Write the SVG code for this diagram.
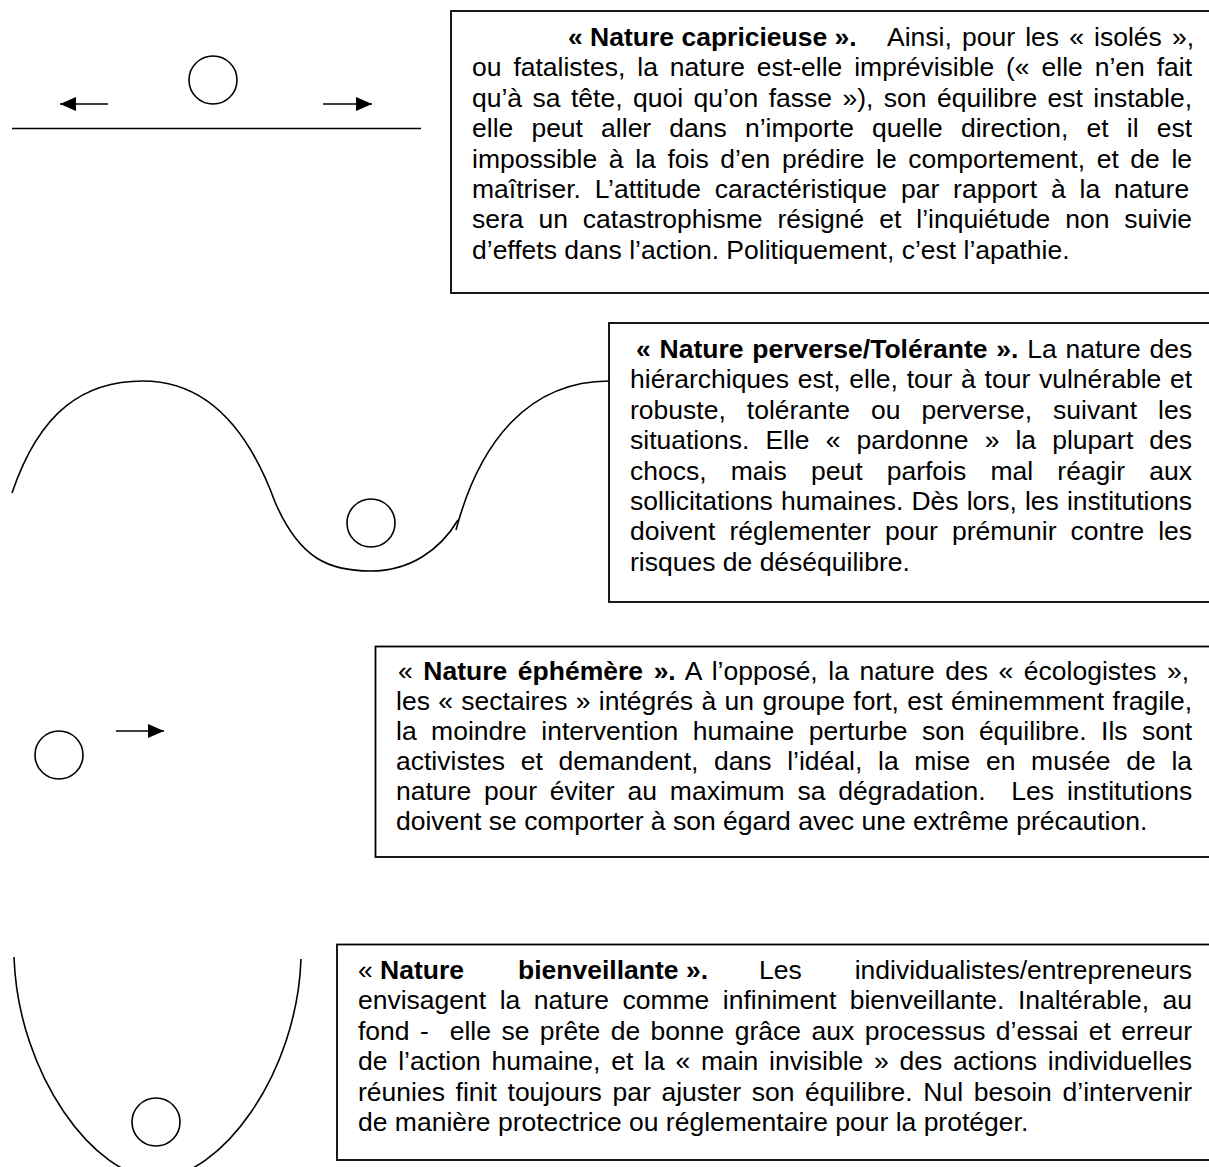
<svg xmlns="http://www.w3.org/2000/svg" width="1209" height="1167" viewBox="0 0 1209 1167">
<defs>
<style>
.box{fill:#fff;stroke:#000;stroke-width:1.8}
.ln{fill:none;stroke:#000;stroke-width:1.6}
.t{font-family:"Liberation Sans",Arial,sans-serif;font-size:26.5px;fill:#000}
.b{font-weight:bold}
</style>
<marker id="ah" markerUnits="userSpaceOnUse" markerWidth="16" markerHeight="16" refX="16" refY="7" orient="auto">
<path d="M0,0 L16,7 L0,14 Z" fill="#000"/>
</marker>
</defs>
<rect width="1209" height="1167" fill="#fff"/>

<g id="shape-capricieuse">
<circle class="ln" cx="213" cy="80" r="24"/>
<line class="ln" x1="12" y1="128.5" x2="421" y2="128.5"/>
</g>
<g id="shape-perverse">
<path class="ln" d="M12,493 C40,410 85,381 143,381 C200,381 245,420 275,502"/>
<path class="ln" d="M275,502 C300,560 330,571 371,571 C410,571 440,550 458,520"/>
<path class="ln" d="M456,530 C480,440 530,381 609,381"/>
<circle class="ln" cx="371" cy="523" r="24"/>
</g>
<g id="shape-ephemere">
<circle class="ln" cx="59" cy="755" r="24"/>
</g>
<g id="shape-bienveillante">
<path class="ln" d="M14,957 C18,1075 95,1178 157,1178 C220,1178 297,1075 301,959"/>
<circle class="ln" cx="156" cy="1122" r="24"/>
</g>

<g id="connectors">
<line class="ln" x1="108" y1="104" x2="60" y2="104" marker-end="url(#ah)"/>
<line class="ln" x1="323" y1="104" x2="372" y2="104" marker-end="url(#ah)"/>
<line class="ln" x1="116" y1="731" x2="164" y2="731" marker-end="url(#ah)"/>
</g>

<g id="box-capricieuse">
<rect class="box" x="451" y="11" width="780" height="282"/>
<g class="t">
<text x="568" y="46" class="b">«&#160;Nature capricieuse&#160;».</text>
<text x="887" y="46" word-spacing="2.8">Ainsi, pour les «&#160;isolés&#160;»,</text>
<text x="472" y="76.4" word-spacing="4.56">ou fatalistes, la nature est-elle imprévisible («&#160;elle n’en fait</text>
<text x="472" y="106.8" word-spacing="3.06">qu’à sa tête, quoi qu’on fasse&#160;»), son équilibre est instable,</text>
<text x="472" y="137.2" word-spacing="10.78">elle peut aller dans n’importe quelle direction, et il est</text>
<text x="472" y="167.6" word-spacing="4.25">impossible à la fois d’en prédire le comportement, et de le</text>
<text x="472" y="198" word-spacing="6.49">maîtriser. L’attitude caractéristique par rapport à la nature</text>
<text x="472" y="228.4" word-spacing="7.54">sera un catastrophisme résigné et l’inquiétude non suivie</text>
<text x="472" y="258.8">d’effets dans l’action. Politiquement, c’est l’apathie.</text>
</g>
</g>

<g id="box-perverse">
<rect class="box" x="609" y="323" width="620" height="279"/>
<g class="t">
<text x="636" y="358" word-spacing="1.45"><tspan class="b">«&#160;Nature perverse/Tolérante&#160;».</tspan> La nature des</text>
<text x="630" y="388.4" word-spacing="1.39">hiérarchiques est, elle, tour à tour vulnérable et</text>
<text x="630" y="418.8" word-spacing="13.7">robuste, tolérante ou perverse, suivant les</text>
<text x="630" y="449.2" word-spacing="8.74">situations. Elle «&#160;pardonne&#160;» la plupart des</text>
<text x="630" y="479.6" word-spacing="16.83">chocs, mais peut parfois mal réagir aux</text>
<text x="630" y="510" word-spacing="0.78">sollicitations humaines. Dès lors, les institutions</text>
<text x="630" y="540.4" word-spacing="6.66">doivent réglementer pour prémunir contre les</text>
<text x="630" y="570.8">risques de déséquilibre.</text>
</g>
</g>

<g id="box-ephemere">
<rect class="box" x="375.5" y="646.5" width="860" height="210.5"/>
<g class="t">
<text x="398" y="680" word-spacing="3.22">«&#160;<tspan class="b">Nature éphémère&#160;».</tspan> A l’opposé, la nature des «&#160;écologistes&#160;»,</text>
<text x="396" y="710" word-spacing="1.0">les «&#160;sectaires&#160;» intégrés à un groupe fort, est éminemment fragile,</text>
<text x="396" y="740" word-spacing="7.08">la moindre intervention humaine perturbe son équilibre. Ils sont</text>
<text x="396" y="770" word-spacing="8.31">activistes et demandent, dans l’idéal, la mise en musée de la</text>
<text x="396" y="800" word-spacing="5.48">nature pour éviter au maximum sa dégradation.&#160; Les institutions</text>
<text x="396" y="830">doivent se comporter à son égard avec une extrême précaution.</text>
</g>
</g>

<g id="box-bienveillante">
<rect class="box" x="337" y="944.5" width="900" height="215.5"/>
<g class="t">
<text x="358" y="979">«&#160;<tspan class="b">Nature</tspan></text>
<text x="518" y="979" class="b">bienveillante&#160;».</text>
<text x="759" y="979">Les</text>
<text x="1192" y="979" text-anchor="end">individualistes/entrepreneurs</text>
<text x="358" y="1009.4" word-spacing="6.14">envisagent la nature comme infiniment bienveillante. Inaltérable, au</text>
<text x="358" y="1039.8" word-spacing="3.08">fond -&#160; elle se prête de bonne grâce aux processus d’essai et erreur</text>
<text x="358" y="1070.2" word-spacing="3.38">de l’action humaine, et la «&#160;main invisible&#160;» des actions individuelles</text>
<text x="358" y="1100.6" word-spacing="3.32">réunies finit toujours par ajuster son équilibre. Nul besoin d’intervenir</text>
<text x="358" y="1131">de manière protectrice ou réglementaire pour la protéger.</text>
</g>
</g>
</svg>
